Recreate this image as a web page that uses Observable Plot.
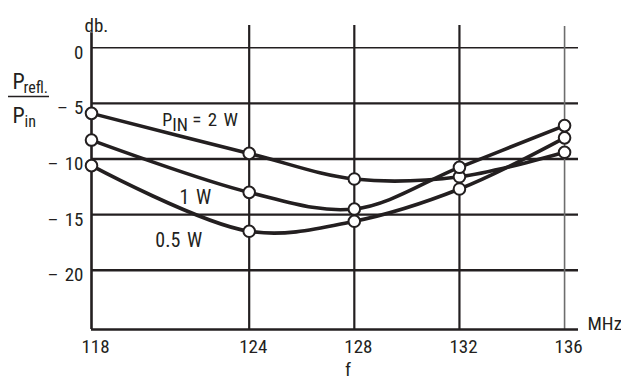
<!DOCTYPE html>
<html><head><meta charset="utf-8">
<script src="https://cdn.jsdelivr.net/npm/d3@7"></script>
<script src="https://cdn.jsdelivr.net/npm/@observablehq/plot@0.6"></script>
<style>
body{margin:0;background:#fff;}
svg text{font-family:"Liberation Sans Narrow","Roboto Condensed","DejaVu Sans Condensed",sans-serif;font-stretch:condensed;}
</style></head><body><div id="chart"></div>
<script>
const freqs = [118, 124, 128, 132, 136];
const p2W  = [-5.9, -9.5, -11.8, -11.6, -9.4];
const p1W  = [-8.3, -13.0, -14.5, -10.75, -7.0];
const p05W = [-10.6, -16.5, -15.6, -12.7, -8.1];
const seriesNames = ["2 W", "1 W", "0.5 W"];
const yTicks = [0, -5, -10, -15, -20];
const yTickLabels = ["0", "– 5", "– 10", "– 15", "– 20"];
const xTicks = [118, 124, 128, 132, 136];
const xTickLabels = ["118", "124", "128", "132", "136"];

const rows = [];
[p2W, p1W, p05W].forEach((vals, i) => vals.forEach((v, j) => rows.push({series: seriesNames[i], f: freqs[j], db: v})));
const at124 = s => rows.filter(d => d.series === s && d.f === 124);

const ink = "#231f20";
const X0 = 118, X1 = 136.53, Y0 = -25.33, Y1 = 2;

const plot = Plot.plot({
  width: 621, height: 385,
  marginLeft: 91, marginRight: 43, marginTop: 25, marginBottom: 56,
  x: {domain: [X0, X1], axis: null},
  y: {domain: [Y0, Y1], axis: null},
  style: {background: "#fff", overflow: "visible"},
  marks: [
    Plot.ruleY([0], {x1: X0, x2: X1, stroke: ink, strokeWidth: 1.5}),
    Plot.ruleY(yTicks.filter(d => d !== 0), {x1: X0, x2: X1, stroke: ink, strokeWidth: 2.4}),
    Plot.ruleX([124, 128, 132], {y1: Y0, y2: Y1, stroke: ink, strokeWidth: 2.2}),
    Plot.ruleX([136], {y1: Y0, y2: 1.9, stroke: "#6d6d6d", strokeWidth: 1.6}),
    Plot.ruleX([118], {y1: Y0, y2: 1.35, stroke: ink, strokeWidth: 2.6}),
    Plot.ruleY([Y0], {x1: X0, x2: X1, stroke: ink, strokeWidth: 2.6}),
    Plot.line(rows, {x: "f", y: "db", z: "series", curve: "catmull-rom", stroke: ink, strokeWidth: 3.6}),
    Plot.dot(rows, {x: "f", y: "db", r: 5.8, fill: "white", stroke: ink, strokeWidth: 2}),
    // tick labels
    Plot.text(yTicks, {y: d => d, text: (d, i) => yTickLabels[i], frameAnchor: "left", textAnchor: "end", dx: -8, dy: 5, fontSize: 19, fill: ink}),
    Plot.text(xTicks, {x: d => d, text: (d, i) => xTickLabels[i], frameAnchor: "bottom", dx: 4, dy: 23, fontSize: 19, fill: ink}),
    Plot.text(["db."], {frameAnchor: "top-left", textAnchor: "start", dx: -7, dy: -7, fontSize: 19, fill: ink}),
    Plot.text(["MHz"], {frameAnchor: "bottom-right", textAnchor: "start", dx: 9, dy: 0, fontSize: 19, fill: ink}),
    Plot.text(["f"], {frameAnchor: "bottom", dx: 13, dy: 46, fontSize: 19, fill: ink}),
    // fraction P_refl / P_in
    Plot.text(["P"], {frameAnchor: "top-left", textAnchor: "start", lineAnchor: "bottom", dx: -79, dy: 63, fontSize: 22, fill: ink}),
    Plot.text(["refl."], {frameAnchor: "top-left", textAnchor: "start", lineAnchor: "bottom", dx: -68, dy: 67, fontSize: 16, fill: ink}),
    Plot.text(["P"], {frameAnchor: "top-left", textAnchor: "start", lineAnchor: "bottom", dx: -79, dy: 97, fontSize: 22, fill: ink}),
    Plot.text(["in"], {frameAnchor: "top-left", textAnchor: "start", lineAnchor: "bottom", dx: -67, dy: 101, fontSize: 16, fill: ink}),
    // series labels
    Plot.text(at124("2 W"), {x: "f", y: "db", text: () => "P", textAnchor: "start", lineAnchor: "bottom", dx: -87, dy: -27, fontSize: 18, fill: ink}),
    Plot.text(at124("2 W"), {x: "f", y: "db", text: () => "IN", textAnchor: "start", lineAnchor: "bottom", dx: -77, dy: -22, fontSize: 18, fill: ink}),
    Plot.text(at124("2 W"), {x: "f", y: "db", text: () => "= 2 W", textAnchor: "start", lineAnchor: "bottom", dx: -57, dy: -27, fontSize: 19, fill: ink, style: "word-spacing:3px"}),
    Plot.text(at124("1 W"), {x: "f", y: "db", text: "series", textAnchor: "end", dx: -38, dy: 5, fontSize: 20, fill: ink}),
    Plot.text(at124("0.5 W"), {x: "f", y: "db", text: "series", textAnchor: "end", dx: -47, dy: 9, fontSize: 20, fill: ink})
  ]
});
d3.select(plot).append("line")
  .attr("x1", 8).attr("x2", 49).attr("y1", 96.5).attr("y2", 96.5)
  .attr("stroke", ink).attr("stroke-width", 1.4);
d3.select(plot).selectAll("text").style("word-spacing", "2px");
document.getElementById("chart").appendChild(plot);
</script></body></html>
